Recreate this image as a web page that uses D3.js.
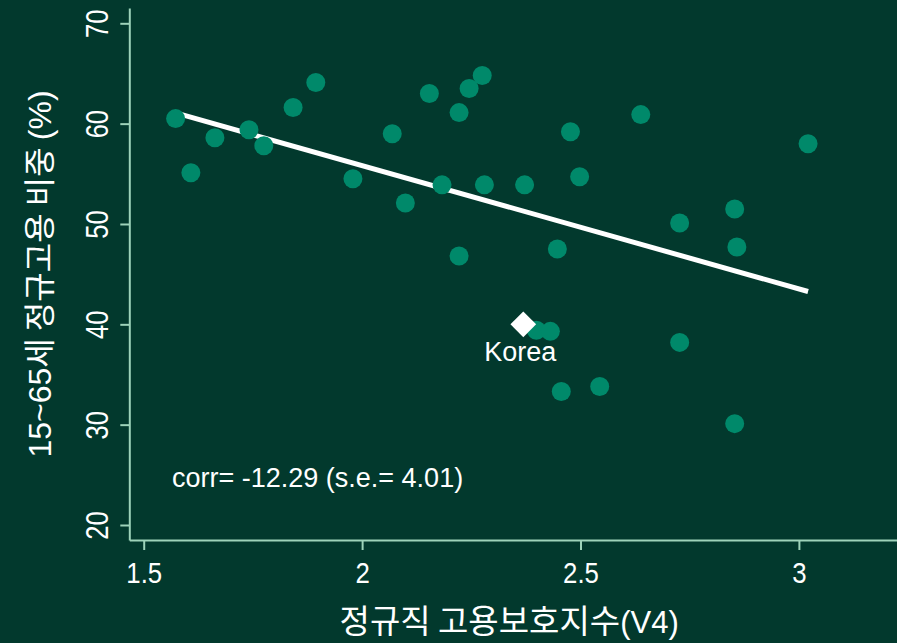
<!DOCTYPE html>
<html>
<head>
<meta charset="utf-8">
<script src="https://cdn.jsdelivr.net/npm/d3@7"></script>
<style>
  body { margin: 0; background: #02392d; }
  svg { display: block; }
  .tick line, .domain { stroke: #9ed3ba; stroke-width: 2; }
  text { fill: #ffffff; }
</style>
</head>
<body>
<div id="wrapper"></div>
<script>
// data
const epl = [1.573, 1.608, 1.663, 1.741, 1.775, 1.842, 1.894, 1.979, 2.069, 2.099,
  2.154, 2.183, 2.222, 2.222, 2.245, 2.275, 2.280, 2.372, 2.447, 2.477,
  2.498, 2.399, 2.431, 2.456, 2.544, 2.638, 2.727, 2.727, 2.853, 2.858,
  2.853, 3.021];
const regularShare = [60.5, 55.1, 58.6, 59.4, 57.8, 61.6, 64.1, 54.5, 59.0, 52.1,
  63.0, 53.9, 61.1, 46.8, 63.5, 64.8, 53.9, 53.9, 47.5, 59.2,
  54.7, 39.4, 39.3, 33.3, 33.8, 60.9, 50.1, 38.2, 51.5, 47.7,
  30.1, 58.0];
const korea = { name: "Korea", x: 2.369, y: 40.0 };
const fitSlope = -12.29;
const fitSE = 4.01;
const fitIntercept = 80.4;
const xTicks = [1.5, 2, 2.5, 3];
const yTicks = [20, 30, 40, 50, 60, 70];

const width = 897;
const height = 643;
const SANS = "'Liberation Sans', Arial, sans-serif";
const KOREAN = "'Noto Sans CJK KR', sans-serif";

const svg = d3.select("#wrapper")
  .append("svg")
    .attr("width", width)
    .attr("height", height);

svg.append("rect")
    .attr("width", width)
    .attr("height", height)
    .attr("fill", "#02392d");

// scales, hand-fit so ticks land where they do in the picture
const xScale = d3.scaleLinear()
  .domain([1.467, 3.2246])
  .range([129.3, 897]);
const yScale = d3.scaleLinear()
  .domain([18.505, 71.525])
  .range([540, 8]);

// axes
const xAxis = svg.append("g")
    .attr("transform", `translate(0, ${yScale.range()[0]})`)
    .call(d3.axisBottom(xScale).tickValues(xTicks).tickSize(10).tickPadding(12)
      .tickFormat(d => d).tickSizeOuter(0));
xAxis.selectAll("text")
    .attr("transform", "scale(0.86, 1)")  // the picture uses a narrow face
    .style("font-family", SANS)
    .style("font-size", "30px");

const yAxis = svg.append("g")
    .attr("transform", `translate(${xScale.range()[0]}, 0)`)
    .call(d3.axisLeft(yScale).tickValues(yTicks).tickSize(9).tickSizeOuter(0));
yAxis.selectAll("text")
    .attr("x", null)
    .attr("dy", null)
    .attr("text-anchor", "middle")
    .attr("transform", "translate(-21, 0) rotate(-90) scale(0.8, 1)")
    .style("font-family", SANS)
    .style("font-size", "32px");

// fit line
const xExtent = d3.extent(epl);
svg.append("line")
    .attr("x1", xScale(xExtent[0]))
    .attr("y1", yScale(fitIntercept + fitSlope * xExtent[0]))
    .attr("x2", xScale(xExtent[1]))
    .attr("y2", yScale(fitIntercept + fitSlope * xExtent[1]))
    .attr("stroke", "#ffffff")
    .attr("stroke-width", 5);

// countries
svg.append("g")
  .selectAll("circle")
  .data(d3.range(epl.length))
  .join("circle")
    .attr("cx", i => xScale(epl[i]))
    .attr("cy", i => yScale(regularShare[i]))
    .attr("r", 9.5)
    .attr("fill", "#00896a");

// Korea
svg.append("path")
    .attr("d", d3.symbol(d3.symbolSquare, 330)())
    .attr("transform", `translate(${xScale(korea.x)}, ${yScale(korea.y)}) rotate(45)`)
    .attr("fill", "#ffffff");
svg.append("text")
    .attr("x", xScale(korea.x) - 3)
    .attr("y", yScale(korea.y) + 37)
    .attr("text-anchor", "middle")
    .style("font-family", SANS)
    .style("font-size", "27px")
    .text(korea.name);

// corr note
svg.append("text")
    .attr("x", 172)
    .attr("y", 487)
    .style("font-family", SANS)
    .style("font-size", "27px")
    .text(`corr= ${fitSlope} (s.e.= ${fitSE})`);

// axis titles
const xTitle = svg.append("text")
    .attr("x", (xScale.range()[0] + xScale.range()[1]) / 2 - 4)
    .attr("y", 633)
    .attr("text-anchor", "middle")
    .style("font-family", KOREAN)
    .style("font-size", "33px");
xTitle.append("tspan").text("정규직 고용보호지수");
xTitle.append("tspan")
    .style("font-family", SANS)
    .style("font-size", "31px")
    .text("(V4)");

const yTitle = svg.append("text")
    .attr("transform", `translate(51, ${(yScale.range()[0] + yScale.range()[1]) / 2}) rotate(-90)`)
    .attr("text-anchor", "middle")
    .style("font-family", KOREAN)
    .style("font-size", "32px");
yTitle.append("tspan")
    .style("font-family", SANS)
    .text("15~65");
yTitle.append("tspan").text("세 정규고용 비중 ");
yTitle.append("tspan")
    .style("font-family", SANS)
    .text("(%)");
</script>
</body>
</html>
